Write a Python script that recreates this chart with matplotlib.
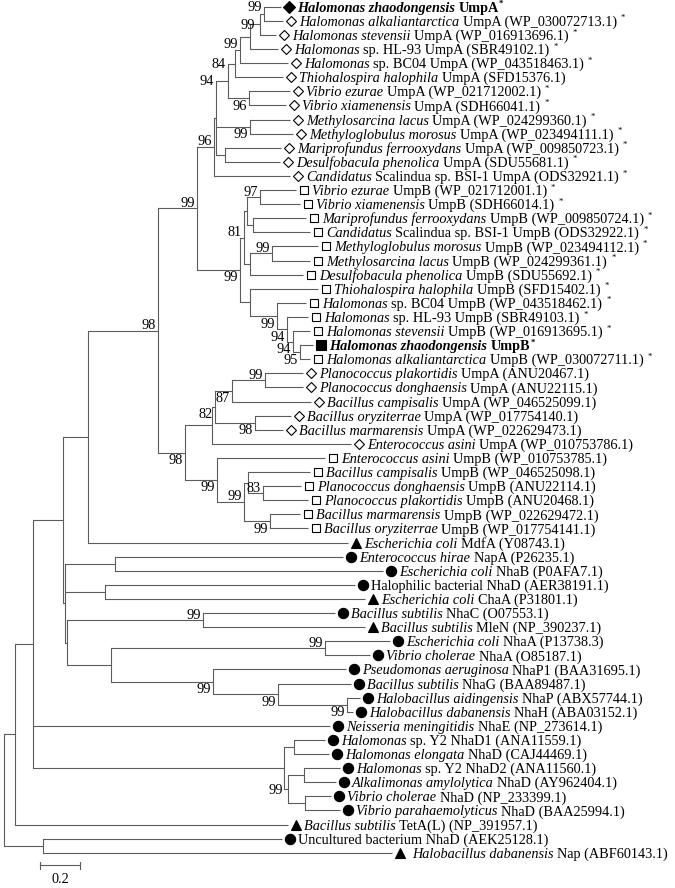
import matplotlib
matplotlib.use("Agg")
import matplotlib.pyplot as plt

plt.rcParams["font.family"] = "Liberation Serif"

# ---------------- leaves, top to bottom ----------------
italic = ["Halomonas zhaodongensis", "Halomonas alkaliantarctica", "Halomonas stevensii", "Halomonas",
          "Halomonas", "Thiohalospira halophila", "Vibrio ezurae", "Vibrio xiamenensis",
          "Methylosarcina lacus", "Methyloglobulus morosus", "Mariprofundus ferrooxydans",
          "Desulfobacula phenolica", "Candidatus",
          "Vibrio ezurae", "Vibrio xiamenensis", "Mariprofundus ferrooxydans", "Candidatus",
          "Methyloglobulus morosus", "Methylosarcina lacus", "Desulfobacula phenolica",
          "Thiohalospira halophila", "Halomonas", "Halomonas", "Halomonas stevensii",
          "Halomonas zhaodongensis", "Halomonas alkaliantarctica",
          "Planococcus plakortidis", "Planococcus donghaensis", "Bacillus campisalis",
          "Bacillus oryziterrae", "Bacillus marmarensis", "Enterococcus asini",
          "Enterococcus asini", "Bacillus campisalis", "Planococcus donghaensis",
          "Planococcus plakortidis", "Bacillus marmarensis", "Bacillus oryziterrae",
          "Escherichia coli", "Enterococcus hirae", "Escherichia coli", "", "Escherichia coli",
          "Bacillus subtilis", "Bacillus subtilis", "Escherichia coli", "Vibrio cholerae",
          "Pseudomonas aeruginosa", "Bacillus subtilis", "Halobacillus aidingensis",
          "Halobacillus dabanensis", "Neisseria meningitidis", "Halomonas", "Halomonas elongata",
          "Halomonas", "Alkalimonas amylolytica", "Vibrio cholerae", "Vibrio parahaemolyticus",
          "Bacillus subtilis", "", "Halobacillus dabanensis"]
roman = ["UmpA", "UmpA", "UmpA", "sp. HL-93 UmpA", "sp. BC04 UmpA", "UmpA", "UmpA", "UmpA",
         "UmpA", "UmpA", "UmpA", "UmpA", "Scalindua sp. BSI-1 UmpA",
         "UmpB", "UmpB", "UmpB", "Scalindua sp. BSI-1 UmpB", "UmpB", "UmpB", "UmpB", "UmpB",
         "sp. BC04 UmpB", "sp. HL-93 UmpB", "UmpB", "UmpB", "UmpB",
         "UmpA", "UmpA", "UmpA", "UmpA", "UmpA", "UmpA",
         "UmpB", "UmpB", "UmpB", "UmpB", "UmpB", "UmpB",
         "MdfA", "NapA", "NhaB", "Halophilic bacterial NhaD", "ChaA", "NhaC", "MleN", "NhaA",
         "NhaA", "NhaP1", "NhaG", "NhaP", "NhaH", "NhaE", "sp. Y2 NhaD1", "NhaD",
         "sp. Y2 NhaD2", "NhaD", "NhaD", "NhaD", "TetA(L)", "Uncultured bacterium NhaD", "Nap"]
acc = ["", "WP_030072713.1", "WP_016913696.1", "SBR49102.1", "WP_043518463.1", "SFD15376.1",
       "WP_021712002.1", "SDH66041.1", "WP_024299360.1", "WP_023494111.1", "WP_009850723.1",
       "SDU55681.1", "ODS32921.1",
       "WP_021712001.1", "SDH66014.1", "WP_009850724.1", "ODS32922.1", "WP_023494112.1",
       "WP_024299361.1", "SDU55692.1", "SFD15402.1", "WP_043518462.1", "SBR49103.1",
       "WP_016913695.1", "", "WP_030072711.1",
       "ANU20467.1", "ANU22115.1", "WP_046525099.1", "WP_017754140.1", "WP_022629473.1",
       "WP_010753786.1", "WP_010753785.1", "WP_046525098.1", "ANU22114.1", "ANU20468.1",
       "WP_022629472.1", "WP_017754141.1",
       "Y08743.1", "P26235.1", "P0AFA7.1", "AER38191.1", "P31801.1", "O07553.1",
       "NP_390237.1", "P13738.3", "O85187.1", "BAA31695.1", "BAA89487.1", "ABX57744.1",
       "ABA03152.1", "NP_273614.1", "ANA11559.1", "CAJ44469.1", "ANA11560.1", "AY962404.1",
       "NP_233399.1", "BAA25994.1", "NP_391957.1", "AEK25128.1", "ABF60143.1"]
star = [1] * 5 + [0] + [1] * 20 + [0] * 35
bold = [1] + [0] * 23 + [1] + [0] * 36
shape = (["D*"] + ["D"] * 12 + ["s"] * 11 + ["s*"] + ["s"] + ["D"] * 6 + ["s"] * 6
         + ["^", "o", "o", "o", "^", "o", "^"] + ["o"] * 13 + ["^", "o", "^"])

tip_depth = [1.385, 1.395, 1.360, 1.370, 1.420, 1.395, 1.430, 1.410, 1.430, 1.445, 1.385,
             1.380, 1.430,
             1.460, 1.480, 1.510, 1.530, 1.570, 1.530, 1.495, 1.570, 1.510, 1.520, 1.530,
             1.545, 1.530,
             1.495, 1.495, 1.535, 1.435, 1.395, 1.735,
             1.605, 1.530, 1.485, 1.520, 1.480, 1.520,
             1.720, 1.695, 1.895, 1.755, 1.805, 1.655, 1.805, 1.930, 1.830, 1.710, 1.735,
             1.780, 1.745, 1.630, 1.605, 1.625, 1.680, 1.660, 1.635, 1.680, 1.420, 1.390,
             1.940]
leaf_parent = ["a1", "a1", "a2", "a3", "a4", "a5", "a7", "a7", "a8", "a8", "a9", "a9", "UA",
               "b1", "b1", "b2", "b2", "b4", "b4", "b5", "b6", "c4", "c3", "c2", "c1", "c1",
               "d1", "d1", "d2", "d3", "d3", "d5", "e", "g", "i", "i", "h", "h",
               "G", "p1", "p1", "p2", "p2", "q1", "q1", "q3", "q3", "q4", "q5", "q6", "q6",
               "E", "n1", "n1", "n2", "n2", "n3", "n3", "A", "B", "B"]

# ---------------- internal nodes ----------------
node_name = ["root", "A", "B", "E", "F", "F2", "F3", "G", "H", "I",
             "UA", "U0", "a6", "a5", "a4", "a3", "a2", "a1", "a7", "a8", "a9",
             "K", "X", "b3", "b1", "b2", "b5", "b4", "b6", "c4", "c3", "c2", "c1",
             "J", "d5", "d4", "d2", "d1", "d3", "e", "f", "g", "i", "h",
             "p1", "p2", "q1", "q2", "q3", "q4", "q5", "q6",
             "n5", "n1", "n4", "n2", "n3"]
node_parent = [None, "root", "root", "A", "E", "F", "F2", "F", "G", "H",
               "I", "UA", "U0", "a6", "a5", "a4", "a3", "a2", "a6", "U0", "U0",
               "I", "K", "X", "b3", "b3", "X", "b5", "K", "b6", "c4", "c3", "c2",
               "H", "J", "d5", "d4", "d2", "d4", "J", "e", "f", "g", "f",
               "F2", "F2", "F3", "F3", "q2", "q2", "q4", "q5",
               "E", "n5", "n5", "n4", "n4"]
node_depth = [0.0, 0.055, 0.195, 0.145, 0.295, 0.305, 0.315, 0.420, 0.770, 0.965,
              1.050, 1.060, 1.120, 1.155, 1.180, 1.230, 1.280, 1.300, 1.225, 1.230, 1.105,
              1.180, 1.200, 1.215, 1.280, 1.245, 1.230, 1.340, 1.230, 1.365, 1.415, 1.445, 1.480,
              0.905, 1.040, 1.055, 1.140, 1.305, 1.255, 1.065, 1.200, 1.220, 1.295, 1.330,
              0.555, 0.505, 0.995, 0.535, 1.605, 1.045, 1.370, 1.715,
              1.400, 1.450, 1.420, 1.500, 1.505]
node_support = [None, None, None, None, None, None, None, None, 98, 99,
                96, 94, 84, None, 99, None, 99, 99, 96, 99, None,
                99, 81, None, 97, None, None, 99, None, 99, 94, 94, 95,
                98, None, 82, 87, 99, 98, 99, 99, None, 83, 99,
                None, None, 99, None, 99, 99, 99, 99,
                None, None, 99, None, None]
# where each support value sits: a=above branch, b=below, t=top of node, m=middle
support_place = ["", "", "", "", "", "", "", "", "a", "a",
                 "a", "t", "t", "", "a", "", "m", "t", "b", "b", "",
                 "b", "a", "", "a", "", "", "a", "", "b", "b", "b", "b",
                 "b", "", "b", "b", "a", "b", "b", "a", "", "a", "b",
                 "", "", "a", "", "a", "b", "b", "b",
                 "", "", "m", "", ""]

scale_len = 0.2

# ---------------- layout ----------------
PX = 1 / 200.0   # tree units per pixel
PY = 1 / 14.1    # rows per pixel
FS = 10.3
LINE = "#5c5c5c"

fig = plt.figure(figsize=(6.75, 8.88), dpi=100)
ax = fig.add_axes([0, 0, 1, 1])
ax.set_xlim(-4 * PX, 671 * PX)
ax.set_ylim(62.5, -0.475)
ax.axis("off")

children = {n: [] for n in node_name}
for n, p in zip(node_name, node_parent):
    if p:
        children[p].append(n)
for i, p in enumerate(leaf_parent):
    children[p].append(i)
depth = dict(zip(node_name, node_depth))
ypos = {}


def place(n):
    ys = [c if isinstance(c, int) else place(c) for c in children[n]]
    ypos[n] = (min(ys) + max(ys)) / 2
    return ypos[n]


place("root")


def cx(c):
    return tip_depth[c] if isinstance(c, int) else depth[c]


def cy(c):
    return c if isinstance(c, int) else ypos[c]


for n in node_name:
    x0 = depth[n]
    ys = [cy(c) for c in children[n]]
    ax.plot([x0, x0], [min(ys), max(ys)], color=LINE, lw=0.8, solid_capstyle="projecting")
    for c in children[n]:
        ax.plot([x0, cx(c)], [cy(c), cy(c)], color=LINE, lw=0.8, solid_capstyle="butt")

# support values
for n, s, pl in zip(node_name, node_support, support_place):
    if s is None:
        continue
    x = depth[n]
    if pl == "a":
        ax.text(x - 2 * PX, ypos[n] - 1.5 * PY, str(s), ha="right", va="baseline", fontsize=FS)
    elif pl == "b":
        ax.text(x - 2 * PX, ypos[n] + 11.5 * PY, str(s), ha="right", va="baseline", fontsize=FS)
    elif pl == "t":
        top = min(cy(c) for c in children[n])
        ax.text(x - 2 * PX, top + 4.5 * PY, str(s), ha="right", va="baseline", fontsize=FS)
    else:
        ax.text(x - 5 * PX, ypos[n] + 4.5 * PY, str(s), ha="right", va="baseline", fontsize=FS)

# markers and leaf labels
rend = fig.canvas.get_renderer()
inv = ax.transData.inverted()
mstyle = {"D*": dict(marker="D", ms=5.8, mfc="black"), "D": dict(marker="D", ms=5.2, mfc="white"),
          "s*": dict(marker="s", ms=7.2, mfc="black"), "s": dict(marker="s", ms=6.0, mfc="white"),
          "o": dict(marker="o", ms=7.4, mfc="black"), "^": dict(marker="^", ms=7.4, mfc="black")}
extra_gap = {60: 4}

for i in range(len(italic)):
    ax.plot(tip_depth[i] + 8 * PX, i, mec="black", mew=0.8, ls="none", **mstyle[shape[i]])
    x = tip_depth[i] + (16 + extra_gap.get(i, 0)) * PX
    yb = i + 5 * PY
    w = "bold" if bold[i] else "normal"
    pieces = []
    if italic[i]:
        pieces.append((italic[i], "italic"))
    txt = roman[i] + (" (" + acc[i] + ")" if acc[i] else "")
    pieces.append((txt, "normal"))
    for s, st in pieces:
        t = ax.text(x, yb, s, style=st, weight=w, fontsize=FS, ha="left", va="baseline")
        ext = t.get_window_extent(rend)
        x = inv.transform((ext.x1, 0))[0] + 3.5 * PX
    if star[i]:
        gap = -3 if not acc[i] else 0.5
        ax.text(x + gap * PX, yb - 5.5 * PY, "*", fontsize=FS * 0.6, ha="left",
                va="baseline", weight=w)

# scale bar
sx, sy = 36 * PX, 60.9
ax.plot([sx, sx + scale_len], [sy, sy], color=LINE, lw=0.8)
for xx in (sx, sx + scale_len):
    ax.plot([xx, xx], [sy - 0.22, sy + 0.22], color=LINE, lw=0.8)
ax.text(sx + scale_len / 2, 62.15, "0.2", ha="center", va="baseline", fontsize=FS)

fig.savefig("out.png", dpi=100)
